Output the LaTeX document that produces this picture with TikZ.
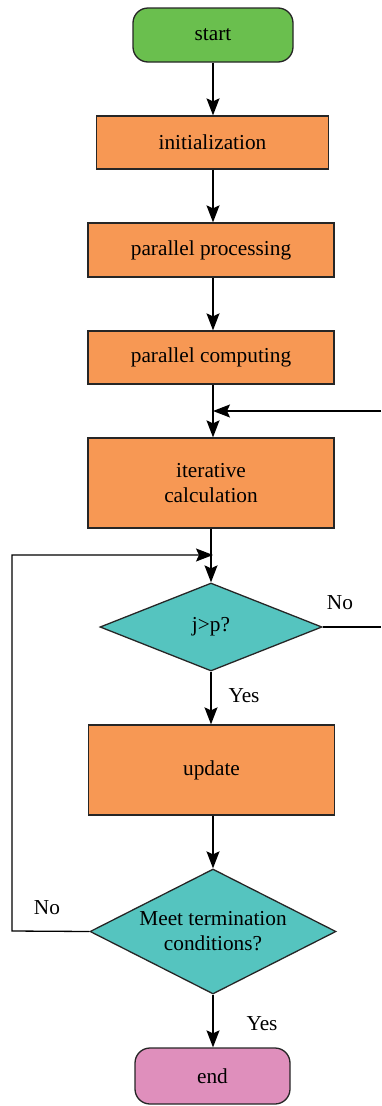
\documentclass[tikz,border=0pt]{standalone}
\usepackage{fontspec}
\setmainfont{Liberation Serif}
\usetikzlibrary{arrows.meta,shapes.geometric}
\definecolor{startgreen}{HTML}{6ABF4E}
\definecolor{boxorange}{HTML}{F79854}
\definecolor{decteal}{HTML}{55C4BF}
\definecolor{endpink}{HTML}{DF8FBC}
\begin{document}
\begin{tikzpicture}[x=1pt,y=-1pt,
  every node/.style={font=\fontsize{21.3}{25}\selectfont, text=black},
  terminal/.style={draw=black!85, line width=1.3pt, rounded corners=15pt, inner sep=0pt},
  procbox/.style={draw=black!85, line width=1.3pt, fill=boxorange, inner sep=0pt, minimum width=246pt},
  decision/.style={draw=black!85, line width=1.3pt, fill=decteal, shape=diamond, inner sep=0pt},
  conn/.style={line width=1.3pt, draw=black},
  arr/.style={conn, -{Stealth[length=17pt,width=13pt,inset=3pt]}},
  lbl/.style={inner sep=0pt}]
\useasboundingbox (0,0) rectangle (381,1106);
\node[terminal, fill=startgreen, minimum width=160pt, minimum height=54pt] (start) at (213,35) {start};
\node[procbox, minimum width=232pt, minimum height=53pt] (init) at (212.5,142.5) {initialization};
\node[procbox, minimum height=54pt] (pp) at (211,250) {parallel processing};
\node[procbox, minimum height=53pt] (pc) at (211,357.5) {parallel computing};
\node[procbox, minimum height=90pt, align=center] (iter) at (211,483) {iterative\\calculation};
\node[decision, minimum width=222pt, minimum height=88pt] (d1) at (211,627) {};
\node (d1t) at (d1.center) {j>p?};
\node[procbox, minimum height=90pt] (upd) at (211.5,770) {update};
\node[decision, minimum width=246pt, minimum height=125pt] (d2) at (213,931.5) {};
\node[align=center] (d2t) at (d2.center) {Meet termination\\conditions?};
\node[terminal, fill=endpink, minimum width=155pt, minimum height=56pt] (end) at (212.5,1076) {end};

\coordinate (fbin) at (381,411);
\coordinate (fbhit) at (213,411);
\coordinate (d1out) at (381,627);
\coordinate (lpA) at (12,931);
\coordinate (lpB) at (12,555);
\coordinate (lpC) at (213,555);

\draw[arr] (start.south -| 213,0) -- (init.north -| 213,0);
\draw[arr] (init.south -| 213,0) -- (pp.north -| 213,0);
\draw[arr] (pp.south -| 213,0) -- (pc.north -| 213,0);
\draw[arr] (pc.south -| 213,0) -- (iter.north -| 213,0);
\draw[arr] (fbin) -- (fbhit);
\draw[arr] (iter.south -| 211,0) -- (d1.north);
\draw[arr] (d1.south) -- (upd.north -| 211,0);
\draw[arr] (upd.south -| 213,0) -- (d2.north);
\draw[arr] (d2.south) -- (end.north -| 213,0);
\draw[conn] (d1.east) -- (d1out);
\draw[arr] (d2.west) -- (lpA) -- (lpB) -- (lpC);

\node[lbl] (no1) at (340,603) {No};
\node[lbl] (yes1) at (244,696) {Yes};
\node[lbl] (no2) at (47,908) {No};
\node[lbl] (yes2) at (262,1024) {Yes};
\end{tikzpicture}
\end{document}
